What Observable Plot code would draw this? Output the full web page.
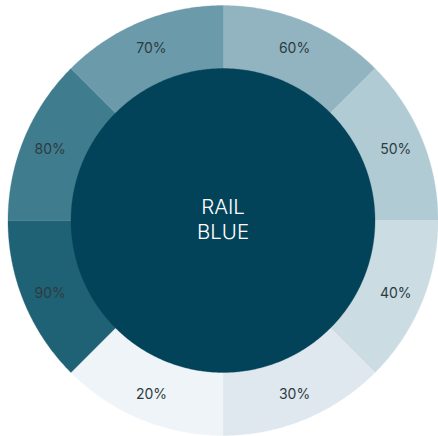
<!DOCTYPE html>
<html>
<head>
<meta charset="utf-8">
<script src="https://cdn.jsdelivr.net/npm/d3@7"></script>
<script src="https://cdn.jsdelivr.net/npm/@observablehq/plot@0.6"></script>
<style>
  html, body { margin: 0; padding: 0; background: #ffffff; }
  #chart svg { display: block; }
</style>
</head>
<body>
<div id="chart"></div>
<script>
// Segments clockwise from 12 o'clock
const labels = ["60%", "50%", "40%", "30%", "20%", "90%", "80%", "70%"];
const segmentColors = ["#92b4c0", "#b1cbd5", "#cbdce3", "#dfe8ee", "#eef4f7", "#1f6275", "#3e7c8e", "#6b9aab"];
const centerLabel = "RAIL\nBLUE";
const centerColor = "#03435a";

const W = 438, H = 436;
const cx = 222.5, cy = 220, R = 215;
const innerFrac = 152 / 215;
const labelFrac = 187 / 215;

const n = labels.length;
const step = 360 / n;
const rad = a => a * Math.PI / 180;

// wedge polygons (outer arc + center)
const wedges = [];
labels.forEach((lab, i) => {
  const a0 = i * step, a1 = (i + 1) * step;
  wedges.push({label: lab, color: segmentColors[i], x: 0, y: 0});
  for (let a = a0; a <= a1 + 1e-9; a += 0.5) {
    wedges.push({label: lab, color: segmentColors[i], x: Math.sin(rad(a)), y: Math.cos(rad(a))});
  }
  wedges.push({label: lab, color: segmentColors[i], x: 0, y: 0});
});

const circle = d3.range(0, 361, 0.5).map(a => ({x: innerFrac * Math.sin(rad(a)), y: innerFrac * Math.cos(rad(a))}));

const labelPts = labels.map((lab, i) => {
  const a = (i + 0.5) * step;
  return {label: lab, x: labelFrac * Math.sin(rad(a)), y: labelFrac * Math.cos(rad(a))};
});

const chart = Plot.plot({
  width: W,
  height: H,
  margin: 0,
  x: {domain: [-cx / R, (W - cx) / R], range: [0, W], axis: null},
  y: {domain: [-(H - cy) / R, cy / R], range: [H, 0], axis: null},
  color: {type: "identity"},
  style: {background: "#ffffff", fontFamily: "Inter, 'Noto Sans', sans-serif"},
  marks: [
    Plot.line(wedges, {x: "x", y: "y", z: "label", fill: "color", stroke: "color", strokeWidth: 0.3}),
    Plot.line(circle, {x: "x", y: "y", fill: centerColor, stroke: centerColor, strokeWidth: 0.3}),
    Plot.text(labelPts, {x: "x", y: "y", text: "label", fontSize: 14, dy: 1, fill: "#2d3b41"}),
    Plot.text([centerLabel], {x: 0, y: 0, text: d => d, fontSize: 20.5, lineHeight: 1.2, dy: -2, fill: "#ffffff", fontWeight: 300})
  ]
});

document.getElementById("chart").appendChild(chart);
</script>
</body>
</html>
